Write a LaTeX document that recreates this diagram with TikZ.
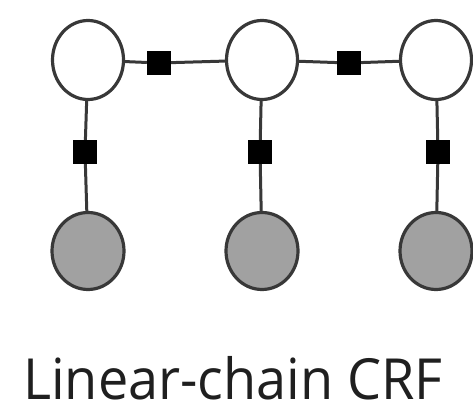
\documentclass[tikz,border=0pt]{standalone}
\usepackage{fontspec}
\usetikzlibrary{shapes.geometric}
\setmainfont{Open Sans}
\begin{document}
\begin{tikzpicture}[x=1pt,y=-1pt,
  hid/.style={ellipse,draw=black!78,line width=3.2pt,fill=white,minimum width=71pt,minimum height=79pt,inner sep=0pt},
  obs/.style={ellipse,draw=black!78,line width=3.2pt,fill=black!37,minimum width=72pt,minimum height=77pt,inner sep=0pt},
  fac/.style={rectangle,fill=black,minimum width=24pt,minimum height=24pt,inner sep=0pt},
  edge/.style={draw=black!78,line width=3pt}]
\useasboundingbox (0,0) rectangle (473,411);
\node[hid] (h1) at (88,60) {};
\node[hid] (h2) at (262,60) {};
\node[hid] (h3) at (436,60) {};
\node[obs] (o1) at (88,251) {};
\node[obs] (o2) at (262,251) {};
\node[obs] (o3) at (436,251) {};
\node[fac] (f12) at (159,63) {};
\node[fac] (f23) at (349,63) {};
\node[fac] (v1) at (85,152) {};
\node[fac] (v2) at (260,152) {};
\node[fac] (v3) at (438,152) {};
\draw[edge] (h1) -- (f12) -- (h2);
\draw[edge] (h2) -- (f23) -- (h3);
\draw[edge] (h1) -- (v1) -- (o1);
\draw[edge] (h2) -- (v2) -- (o2);
\draw[edge] (h3) -- (v3) -- (o3);
\node[font=\fontsize{54}{60}\selectfont,text=black!88,anchor=base,inner sep=0pt,text depth=0pt,yscale=1.05] (t) at (233,399) {Linear-chain CRF};
\end{tikzpicture}
\end{document}
